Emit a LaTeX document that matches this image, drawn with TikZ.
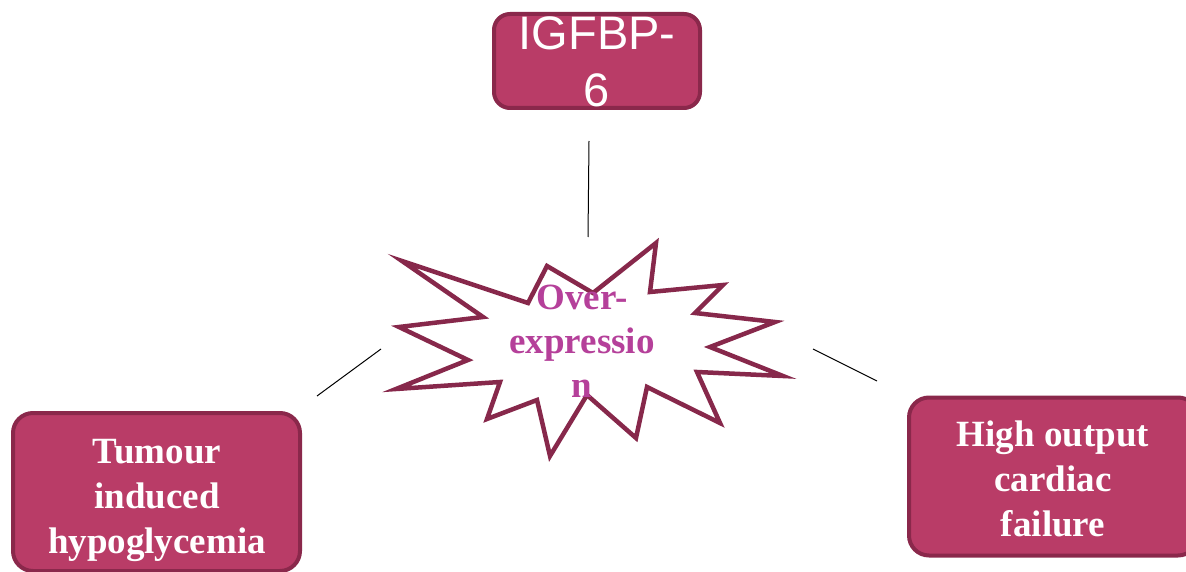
\documentclass[tikz,border=0pt]{standalone}
\usepackage{fontspec}
\setmainfont{Liberation Serif}
\newfontfamily\arialf{Liberation Sans}
\definecolor{boxfill}{RGB}{185,60,103}
\definecolor{boxline}{RGB}{138,40,75}
\definecolor{starline}{RGB}{135,40,75}
\definecolor{startext}{RGB}{181,64,154}
\begin{document}
\begin{tikzpicture}[x=1pt,y=-1pt,
  cbox/.style={draw=boxline, fill=boxfill, line width=4pt, rounded corners=20pt, inner sep=0pt},
  btext/.style={text=white, font=\bfseries\fontsize{37}{45}\selectfont, align=center, inner sep=0pt},
  conn/.style={line width=1pt, black}]
\useasboundingbox (0,0) rectangle (1186,572);
\clip (0,0) rectangle (1186,572);
% boxes
\node[cbox, rounded corners=16pt, minimum width=206pt, minimum height=94pt] (top) at (597,61) {};
\node[cbox, minimum width=287pt, minimum height=158pt] (left) at (156.5,492) {};
\node[cbox, minimum width=289pt, minimum height=158pt] (right) at (1053.5,476.5) {};
% texts
\node[text=white, font=\arialf\fontsize{47}{57}\selectfont, align=center, inner sep=0pt] (toptext) at (597,62) {IGFBP-\\6};
\node[btext] (lefttext) at (157,500) {Tumour\\induced\\hypoglycemia};
\node[btext] (righttext) at (1053,479) {High output\\cardiac\\failure};
% starburst
\draw[draw=starline, fill=white, line width=4.5pt, line join=miter]
  (402,261) -- (528,303) -- (547,266) -- (593,293) -- (656,243) -- (650,292)
  -- (723,285) -- (695,313) -- (775,322) -- (710,347) -- (783,376) -- (697,372)
  -- (720,423) -- (647,387) -- (636,438) -- (587,395) -- (550,456) -- (537,400)
  -- (487,419) -- (500,382) -- (396,389) -- (468,360) -- (399,327) -- (483,317) -- cycle;
\node[text=startext, font=\bfseries\fontsize{37}{44}\selectfont, align=center, inner sep=0pt] (star) at (582,341.5) {Over-\\expressio\\n};
% connectors
\coordinate (c1a) at (589,141);
\coordinate (c1b) at (588,237);
\coordinate (c2a) at (381,349);
\coordinate (c2b) at (317,396);
\coordinate (c3a) at (813,349);
\coordinate (c3b) at (877,381);
\draw[conn] (c1a) -- (c1b);
\draw[conn] (c2a) -- (c2b);
\draw[conn] (c3a) -- (c3b);
\end{tikzpicture}
\end{document}
